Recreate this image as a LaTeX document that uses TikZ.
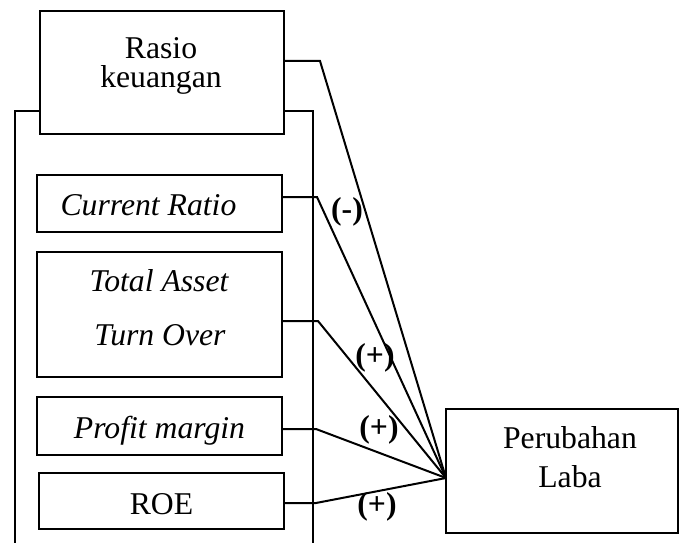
\documentclass[tikz,border=0pt]{standalone}
\usepackage{fontspec}
\setmainfont{Liberation Serif}
\begin{document}
\begin{tikzpicture}[x=1pt,y=-1pt,
  box/.style={draw,line width=2pt,inner sep=0pt},
  conn/.style={line width=2pt,line join=miter},
  txt/.style={font=\fontsize{31.7}{36}\selectfont,inner sep=0pt,anchor=base},
  sign/.style={font=\fontsize{31.7}{36}\selectfont\bfseries,inner sep=0pt}]
\useasboundingbox (0,0) rectangle (680,543);
% boxes
\node[box,minimum width=244pt,minimum height=123pt] (rasio) at (162,72.5) {};
\node[box,minimum width=245pt,minimum height=57pt] (cr) at (159.5,203.5) {};
\node[box,minimum width=245pt,minimum height=125pt] (ta) at (159.5,314.5) {};
\node[box,minimum width=245pt,minimum height=58pt] (pm) at (159.5,426) {};
\node[box,minimum width=245pt,minimum height=56pt] (roe) at (161.5,501) {};
\node[box,minimum width=232pt,minimum height=124pt] (laba) at (562,471) {};
% texts
\node[txt] (t1) at (161,59) {Rasio};
\node[txt] (t2) at (161,88) {keuangan};
\node[txt] (t3) at (148.5,215) {\itshape Current Ratio};
\node[txt] (t4) at (159,291) {\itshape Total Asset};
\node[txt] (t5) at (160,345) {\itshape Turn Over};
\node[txt] (t6) at (159.5,438) {\itshape Profit margin};
\node[txt] (t7) at (161.5,514) {ROE};
\node[txt] (t8) at (570,448) {Perubahan};
\node[txt] (t9) at (570,487) {Laba};
% bracket
\coordinate (bl) at (15,111);
\coordinate (br) at (313,111);
\coordinate (bld) at (15,543);
\coordinate (brd) at (313,543);
\draw[conn] (bld) -- (bl) -- (bl -| rasio.west);
\draw[conn] (br -| rasio.east) -- (br) -- (brd);
% connectors
\coordinate (conv) at (446,478);
\coordinate (k0) at (320,61);
\coordinate (k1) at (317,197);
\coordinate (k2) at (318,321);
\coordinate (k3) at (316,429);
\coordinate (k4) at (316,503);
\draw[conn] (k0 -| rasio.east) -- (k0) -- (conv);
\draw[conn] (k1 -| cr.east) -- (k1) -- (conv);
\draw[conn] (k2 -| ta.east) -- (k2) -- (conv);
\draw[conn] (k3 -| pm.east) -- (k3) -- (conv);
\draw[conn] (k4 -| roe.east) -- (k4) -- (conv);
% signs
\node[sign] (s0) at (347,212) {(-)};
\node[sign] (s1) at (375,358) {(+)};
\node[sign] (s2) at (379,430) {(+)};
\node[sign] (s3) at (377,507) {(+)};
\end{tikzpicture}
\end{document}
